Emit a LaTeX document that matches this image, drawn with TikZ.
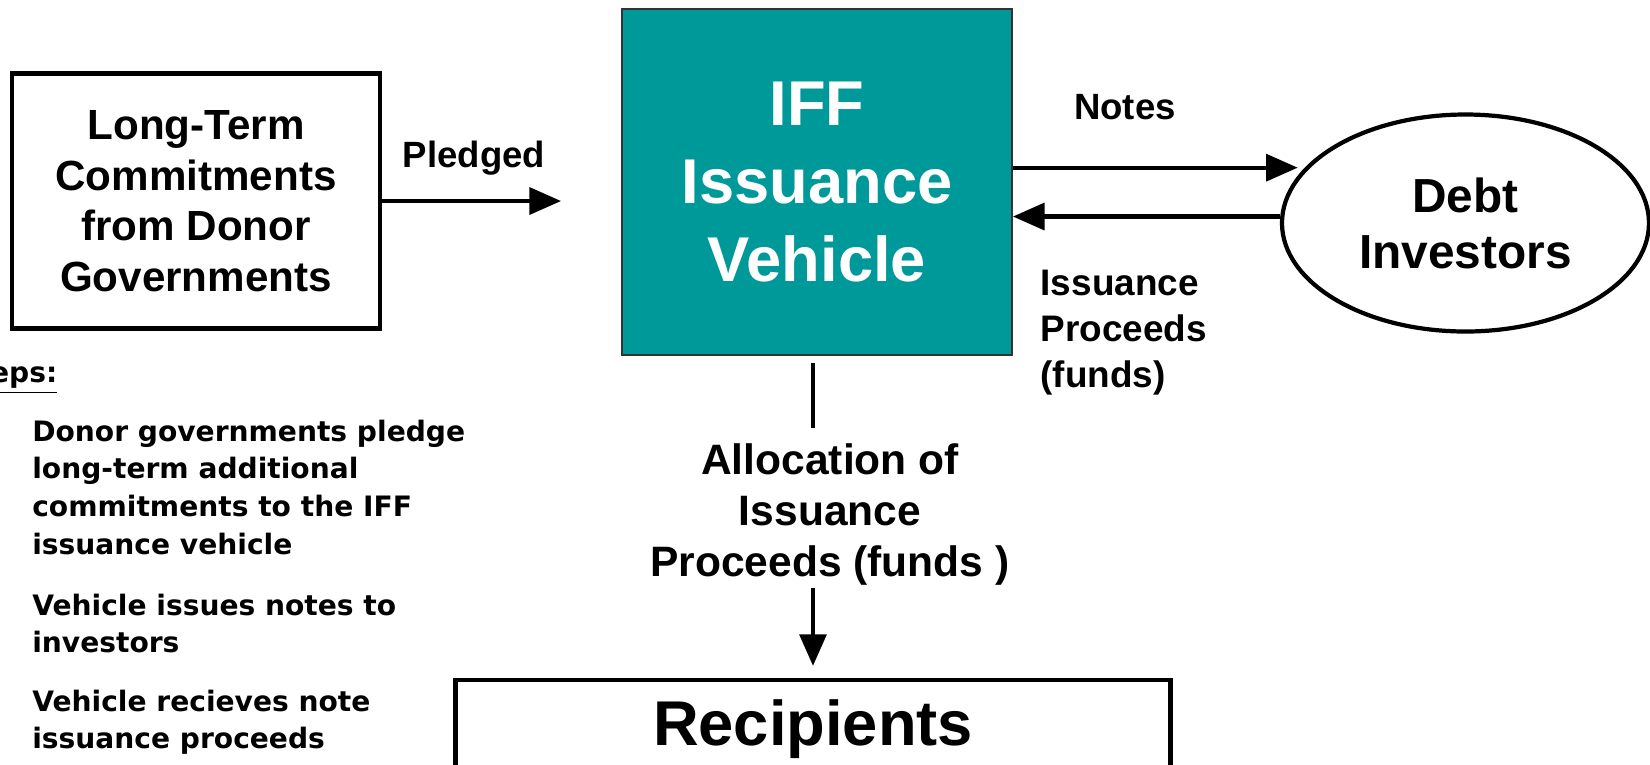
\documentclass[tikz,border=0pt]{standalone}
\usepackage{fontspec}
\setmainfont{Liberation Sans}
\newfontfamily\stepsfont{DejaVu Sans}
\usetikzlibrary{arrows.meta,positioning,shapes.geometric}
\definecolor{iffteal}{RGB}{0,153,153}

\begin{document}
\begin{tikzpicture}[
    node distance=10mm and 14mm,
    box/.style={rectangle, draw=black, line width=1.2pt,
                align=center, inner sep=0pt},
    arr/.style={-{Triangle[length=9pt, width=7.6pt]}, line width=1.2pt, draw=black},
    ln/.style={line width=1.2pt, draw=black},
    lbl/.style={align=center, inner sep=0pt, font=\bfseries\fontsize{10.4}{12.8}\selectfont},
    stepnote/.style={align=left, inner sep=0pt, anchor=north west,
                     font=\stepsfont\bfseries\fontsize{8.0}{10.75}\selectfont}
]
    \path[use as bounding box, clip] (0,0) rectangle (16.5,-7.64);

    \node[box, fill=iffteal, draw=black!80, line width=0.5pt, text=white,
          minimum width=3.9cm, minimum height=3.46cm,
          font=\bfseries\fontsize{18}{22.2}\selectfont] (iff) at (8.17,-1.82) {IFF\\Issuance\\Vehicle};

    \node[box, minimum width=3.68cm, minimum height=2.55cm,
          font=\bfseries\fontsize{12}{14.4}\selectfont,
          left=2.39cm of iff, yshift=-0.19cm] (ltc) {Long-Term\\Commitments\\from Donor\\Governments};

    \node[ellipse, draw=black, line width=1.2pt, align=center, inner sep=0pt,
          minimum width=3.67cm, minimum height=2.17cm,
          font=\bfseries\fontsize{13.6}{15.9}\selectfont,
          right=2.67cm of iff, yshift=-0.41cm] (debt) {Debt\\Investors};

    \node[box, minimum width=7.15cm, minimum height=0.98cm,
          font=\bfseries\fontsize{18}{21.4}\selectfont,
          below=3.22cm of iff, xshift=-0.04cm] (rcp) {Recipients};

    \node[lbl, font=\bfseries\fontsize{12.1}{14.5}\selectfont,
          below=0.87cm of iff, xshift=0.13cm] (alloc) {Allocation of\\Issuance\\Proceeds (funds )};

    % arrow labels
    \node[lbl] (pledged) at (4.74,-1.58) {Pledged};
    \node[lbl] (notes) at (11.25,-1.07) {Notes};
    \node[lbl, align=left, anchor=north west, font=\bfseries\fontsize{10.5}{13.1}\selectfont]
        (procl) at (10.40,-2.69) {Issuance\\Proceeds\\(funds)};

    % steps
    \node[stepnote, anchor=base east] (stephead) at (0.58,-3.82) {\underline{Steps:}};
    \node[stepnote] (s1) at (0.316,-4.19) {Donor governments pledge\\long-term additional\\commitments to the IFF\\issuance vehicle};
    \node[stepnote, below=0.375cm of s1.south west, anchor=north west] (s2) {Vehicle issues notes to\\investors};
    \node[stepnote, below=0.35cm of s2.south west, anchor=north west] (s3) {Vehicle recieves note\\issuance proceeds};

    \draw[arr, shorten >=0.6cm] (ltc.east) -- (ltc.east -| iff.west);
    \draw[arr, shorten >=0.07cm] (iff.east |- debt.161) -- (debt.161);
    \draw[arr] (debt.178) -- (debt.178 -| iff.east);
    \draw[ln, shorten <=0.07cm, shorten >=0.15cm] (iff.south -| rcp.north) -- (alloc.north -| rcp.north);
    \draw[arr, shorten <=0.02cm, shorten >=0.12cm] (alloc.south -| rcp.north) -- (rcp.north);
\end{tikzpicture}
\end{document}
